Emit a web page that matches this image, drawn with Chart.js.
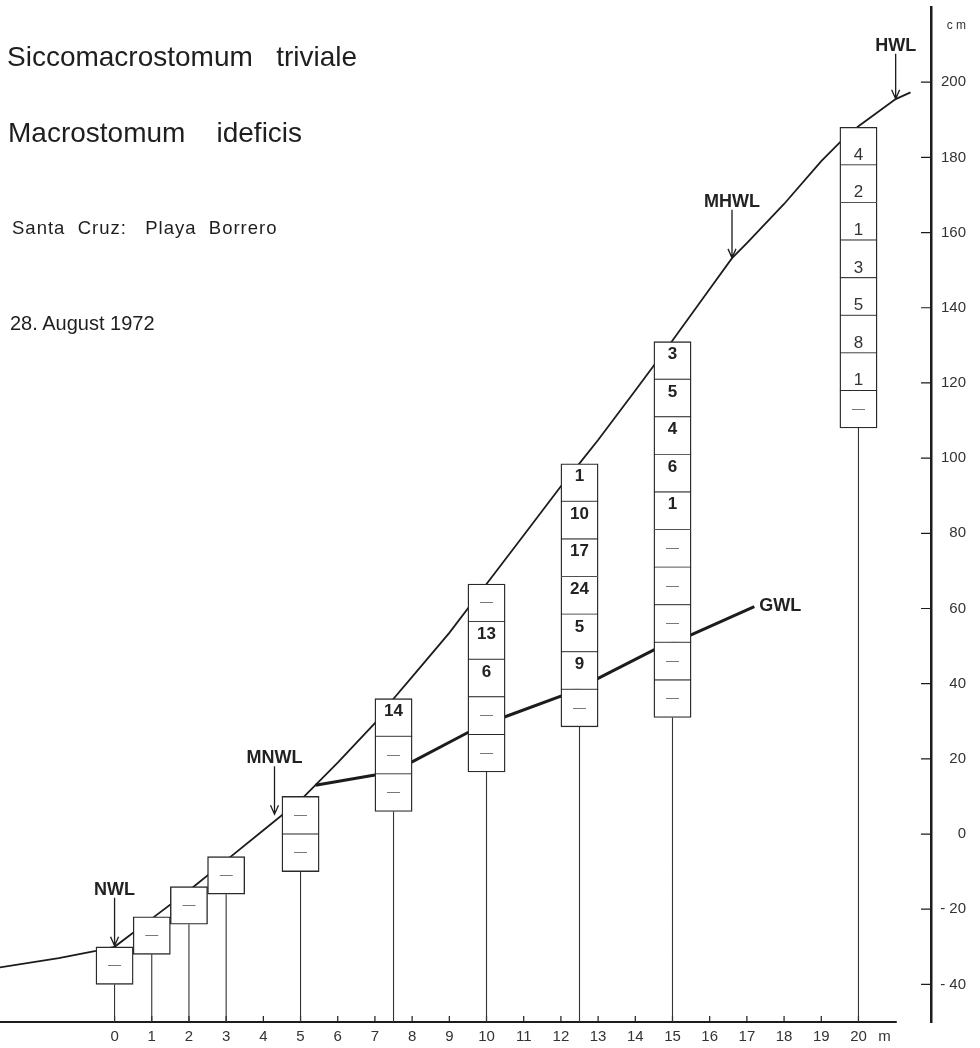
<!DOCTYPE html>
<html>
<head>
<meta charset="utf-8">
<script src="https://cdn.jsdelivr.net/npm/chart.js@4.4.1/dist/chart.umd.min.js"></script>
<style>
  body { margin: 0; background: #fff; }
  #wrap { position: relative; width: 980px; height: 1048px; }
  #wrap canvas { position: absolute; left: 0; top: 0; }
  .head { position: absolute; font-family: "Liberation Sans", Arial, sans-serif; color: #1e1e1e; white-space: pre; line-height: 1; }
</style>
</head>
<body>
<div id="wrap">
  <canvas id="myChart" width="980" height="1048"></canvas>
  <div class="head" style="left:7px; top:43px; font-size:28px;">Siccomacrostomum   triviale</div>
  <div class="head" style="left:8px; top:119px; font-size:28px;">Macrostomum    ideficis</div>
  <div class="head" style="left:12px; top:219px; font-size:18.5px; letter-spacing:1px;">Santa  Cruz:   Playa  Borrero</div>
  <div class="head" style="left:10px; top:313px; font-size:20px; word-spacing:0px;">28. August 1972</div>
</div>
<script>
// sampling stations along the beach (m) and the top of each core (cm)
var stations = [0, 1, 2, 3, 5, 7.5, 10, 12.5, 15, 20];
var boxTop = [-30, -22, -14, -6, 10, 36, 66.5, 98.5, 131, 188];
var cellDepth = 10;
// animals per 10 cm layer, top to bottom (null = none found)
var counts = [
    [null],
    [null],
    [null],
    [null],
    [null, null],
    [14, null, null],
    [null, 13, 6, null, null],
    [1, 10, 17, 24, 5, 9, null],
    [3, 5, 4, 6, 1, null, null, null, null, null],
    [4, 2, 1, 3, 5, 8, 1, null]
];

// beach profile and ground water line
var profileX = [-3.1, -1.5, -0.5, 0, 1, 2, 3, 4, 5, 5.4, 6, 7, 7.5, 8, 9, 10, 11, 12, 12.5, 13, 14, 15, 16, 16.6, 17, 18, 19, 19.5, 20, 21, 21.4];
var profileY = [-35.5, -33, -31.1, -30, -22.5, -15, -7, 1, 9, 13, 19, 29.5, 36, 41.8, 53.5, 66.5, 79.5, 92.5, 98.6, 104.8, 118, 131.3, 145, 153.2, 157.2, 167.6, 179, 184, 188.3, 195.5, 197.3];
var gwlX = [5.4, 7, 8, 9.5, 10.5, 12, 13, 14.5, 15.5, 17.2];
var gwlY = [13, 15.7, 19.2, 27, 31.2, 36.7, 41.4, 49, 53, 60.5];

// water level marks
var marks = ['NWL', 'MNWL', 'MHWL', 'HWL'];
var markX = [0, 4.3, 16.6, 21.0];
var markY = [-30, 5, 153, 195.3];

// axes
var xTicks = [0, 1, 2, 3, 4, 5, 6, 7, 8, 9, 10, 11, 12, 13, 14, 15, 16, 17, 18, 19, 20];
var yTicks = [-40, -20, 0, 20, 40, 60, 80, 100, 120, 140, 160, 180, 200];
var xMin = -3.08, xMax = 21.95, xAxisEnd = 21.03;
var yMin = -50, yMax = 220;

var ink = '#1c1c1c';
var fam = '"Liberation Sans", Arial, sans-serif';

var cellData = [], cellText = [], cellBox = [], cellFirst = [], cellLast = [];
stations.forEach(function (st, i) {
    counts[i].forEach(function (n, k) {
        var hi = boxTop[i] - k * cellDepth;
        cellData.push({x: st, y: [hi - cellDepth, hi]});
        cellText.push(n === null ? '—' : String(n));
        cellBox.push(i);
        cellFirst.push(k === 0);
        cellLast.push(k === counts[i].length - 1);
    });
});

var poleData = [];
stations.forEach(function (st, i) {
    poleData.push({x: st, y: boxTop[i] - counts[i].length * cellDepth});
    poleData.push({x: st, y: yMin});
    poleData.push({x: st, y: null});
});

var deco = {
    id: 'deco',
    beforeDatasetsDraw: function (chart) {
        var ctx = chart.ctx, a = chart.chartArea, x = chart.scales.x, y = chart.scales.y;
        ctx.save();
        ctx.strokeStyle = ink;
        ctx.lineWidth = 2;
        ctx.beginPath();
        ctx.moveTo(a.left, a.bottom);
        ctx.lineTo(x.getPixelForValue(xAxisEnd), a.bottom);
        ctx.stroke();
        ctx.lineWidth = 1.2;
        ctx.beginPath();
        xTicks.forEach(function (v) {
            var px = x.getPixelForValue(v);
            ctx.moveTo(px, a.bottom);
            ctx.lineTo(px, a.bottom - 6);
        });
        yTicks.forEach(function (v) {
            var py = y.getPixelForValue(v);
            ctx.moveTo(a.right, py);
            ctx.lineTo(a.right - 10, py);
        });
        ctx.stroke();
        ctx.restore();
    },
    afterDatasetsDraw: function (chart) {
        var ctx = chart.ctx, a = chart.chartArea, x = chart.scales.x, y = chart.scales.y;
        ctx.save();
        ctx.textAlign = 'center';
        ctx.textBaseline = 'middle';

        // numbers in the cells
        var meta = chart.getDatasetMeta(0);
        var last = stations.length - 1;
        meta.data.forEach(function (bar, i) {
            var cy = (bar.y + bar.base) / 2;
            var t = cellText[i];
            if (t === '—') {
                ctx.font = '13px ' + fam;
                ctx.fillStyle = '#666';
                ctx.fillText(t, bar.x, cy);
            } else if (cellBox[i] === last) {
                ctx.font = '17px ' + fam;
                ctx.fillStyle = '#333';
                ctx.fillText(t, bar.x, cy + 9);
            } else {
                ctx.font = 'bold 17px ' + fam;
                ctx.fillStyle = '#222';
                ctx.fillText(t, bar.x, cy - 6);
            }
        });

        // water level arrows
        ctx.strokeStyle = ink;
        ctx.fillStyle = '#222';
        ctx.lineWidth = 1.3;
        ctx.font = 'bold 18px ' + fam;
        marks.forEach(function (name, i) {
            var px = x.getPixelForValue(markX[i]);
            var py = y.getPixelForValue(markY[i]);
            var len = name === 'HWL' ? 46 : 49;
            var top = py - len;
            ctx.beginPath();
            ctx.moveTo(px, top);
            ctx.lineTo(px, py - 1);
            ctx.moveTo(px - 4, py - 10);
            ctx.lineTo(px, py - 1);
            ctx.lineTo(px + 4, py - 10);
            ctx.stroke();
            ctx.fillText(name, px, top - 8);
        });

        // GWL label at the end of the line
        var n = gwlX.length - 1;
        ctx.textAlign = 'left';
        ctx.font = 'bold 18px ' + fam;
        ctx.fillText('GWL', x.getPixelForValue(gwlX[n]) + 5, y.getPixelForValue(gwlY[n]) - 1);

        // units
        ctx.fillStyle = '#333';
        ctx.textAlign = 'center';
        ctx.font = '15px ' + fam;
        ctx.fillText('m', x.getPixelForValue(20) + 26, a.bottom + 15);
        ctx.textAlign = 'right';
        ctx.font = '12px ' + fam;
        ctx.fillText('c m', 966, 26);
        ctx.restore();
    }
};

var config = {
    type: 'bar',
    data: {
        datasets: [{
            label: 'cores',
            data: cellData,
            backgroundColor: '#fff',
            borderColor: '#2a2a2a',
            borderWidth: function (c) {
                var i = c.dataIndex;
                return {left: 1.4, right: 1.4, top: cellFirst[i] ? 1.4 : 0.8, bottom: cellLast[i] ? 1.4 : 0.8};
            },
            borderSkipped: false,
            grouped: false,
            barPercentage: 1,
            categoryPercentage: 1,
            order: 0
        }, {
            type: 'line',
            label: 'profile',
            data: profileX.map(function (v, i) { return {x: v, y: profileY[i]}; }),
            borderColor: ink,
            borderWidth: 1.8,
            pointRadius: 0,
            tension: 0,
            order: 1
        }, {
            type: 'line',
            label: 'GWL',
            data: gwlX.map(function (v, i) { return {x: v, y: gwlY[i]}; }),
            borderColor: ink,
            borderWidth: 3,
            pointRadius: 0,
            tension: 0,
            order: 1
        }, {
            type: 'line',
            label: 'poles',
            data: poleData,
            borderColor: '#333',
            borderWidth: 1.1,
            pointRadius: 0,
            spanGaps: false,
            order: 2
        }]
    },
    options: {
        responsive: false,
        animation: false,
        layout: {padding: {top: 7, right: 14, bottom: 0, left: 0}},
        plugins: {legend: {display: false}, tooltip: {enabled: false}},
        scales: {
            x: {
                type: 'linear',
                min: xMin,
                max: xMax,
                offset: false,
                afterBuildTicks: function (s) { s.ticks = xTicks.map(function (v) { return {value: v}; }); },
                afterFit: function (s) { s.height = 26; s.paddingLeft = 0; s.paddingRight = 0; },
                grid: {display: false, drawTicks: false, offset: false},
                border: {display: false},
                ticks: {autoSkip: false, maxRotation: 0, padding: 6, color: '#333', font: {family: fam, size: 15}}
            },
            y: {
                type: 'linear',
                position: 'right',
                min: yMin,
                max: yMax,
                afterBuildTicks: function (s) { s.ticks = yTicks.map(function (v) { return {value: v}; }); },
                afterFit: function (s) { s.width = 35; s.paddingTop = 0; s.paddingBottom = 0; },
                grid: {display: false, drawTicks: false},
                border: {display: true, color: ink, width: 2.5},
                ticks: {
                    crossAlign: 'far',
                    padding: 9,
                    color: '#333',
                    font: {family: fam, size: 15},
                    callback: function (v) { return v < 0 ? '- ' + Math.abs(v) : String(v); }
                }
            }
        }
    },
    plugins: [deco]
};

const myChart = new Chart(document.getElementById('myChart'), config);
</script>
</body>
</html>
